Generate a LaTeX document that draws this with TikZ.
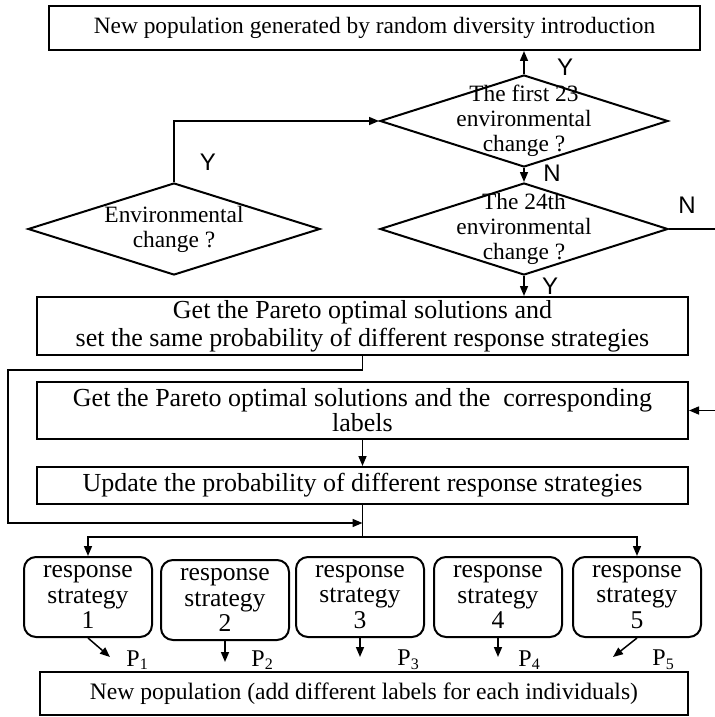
\documentclass[tikz,border=0pt]{standalone}
\usepackage{fontspec}
\setmainfont{Liberation Serif}
\newfontfamily\ynfont{Liberation Sans}
\usetikzlibrary{arrows.meta, shapes.geometric, positioning}

\begin{document}
\begin{tikzpicture}[x=0.5pt,y=-0.5pt,
    arr/.style={-{Triangle[length=5pt,width=4pt]},line width=0.75pt},
    ln/.style={line width=0.75pt},
    box/.style={draw,line width=1pt,minimum width=325.5pt,inner sep=0pt,align=center},
    dec/.style={draw,diamond,line width=1pt,inner sep=0pt,minimum width=144pt,minimum height=46pt},
    dtext/.style={align=center,inner sep=0pt,font=\fontsize{11.7}{12.5}\selectfont},
    strat/.style={draw,rounded corners=6pt,line width=1pt,minimum width=64pt,minimum height=40pt,
        inner sep=0pt,align=center,font=\fontsize{12.8}{12.8}\selectfont},
    yn/.style={font=\ynfont\fontsize{12}{12}\selectfont,inner sep=0pt},
    pl/.style={font=\fontsize{12}{12}\selectfont,inner sep=0pt,anchor=west}]
\useasboundingbox (0,0) rectangle (715,717);

%
\node[box,minimum height=22pt,font=\fontsize{11.7}{14}\selectfont] (intro) at (374.5,28)
    {New population generated by random diversity introduction};

%
\node[dec] (first) at (524,121) {};
\node[dtext] (firstt) at (first.center) {The first 23\\environmental\\change ?};
\node[dec] (last) at (524,229) {};
\node[dtext] (lastt) at (last.center) {The 24th\\environmental\\change ?};
\node[dec,minimum width=146pt] (env) at (174,229) {};
\node[dtext] (envt) at (env.center) {Environmental\\change ?};

%
\node[box,minimum height=29pt,font=\fontsize{13}{14}\selectfont] (init) at (362.5,326)
    {Get the Pareto optimal solutions and\\set the same probability of different response strategies};
\node[box,minimum height=28.5pt,font=\fontsize{13}{12.5}\selectfont] (label) at (362.5,410.5)
    {Get the Pareto optimal solutions and the \ corresponding\\labels};
\node[box,minimum height=18.5pt,font=\fontsize{13}{14}\selectfont] (update) at (362.5,485.5)
    {Update the probability of different response strategies};

%
\foreach \i/\x/\y in {1/88/597,2/225/600,3/360/597,4/498/597,5/637/597}
    \node[strat] (s\i) at (\x,\y) {response\\strategy\\\i};

\node[box,minimum width=324pt,minimum height=21.5pt,font=\fontsize{11.8}{14}\selectfont] (newpop) at (364,693.5)
    {New population (add different labels for each individuals)};

%
\draw[arr] (first.north) -- (first.north |- intro.south);
\node[yn] (y1) at (565,67) {Y};
\draw[arr] (first.south) -- (last.north);
\node[yn] (n1) at (552,173) {N};
\draw[arr] (env.north) |- (first.west);
\node[yn] (y0) at (208,162) {Y};
\coordinate (nout) at (715,229);
\draw[ln] (last.east) -- (nout);
\node[yn] (n2) at (687,205) {N};
\draw[arr] (last.south) -- (last.south |- init.north);
\node[yn] (y2) at (550,286) {Y};

%
\coordinate (lin) at (715,410.5);
\draw[arr] (lin) -- (label.east);
\draw[arr] (label.south) -- (update.north);
\coordinate (loop) at (8,523);
\coordinate (merge) at (362.5,523);
\coordinate (split) at (362.5,537);
\draw[arr] (init.south) -- ++(0,14) -| (loop) -- (merge);
\draw[ln] (update.south) -- (split);
\draw[arr] (split) -| (s1.north);
\draw[arr] (split) -| (s5.north);

%
\coordinate (e1) at (110,657);
\coordinate (e2) at (225,662);
\coordinate (e3) at (360,657);
\coordinate (e4) at (498,657);
\coordinate (e5) at (613,657);
\foreach \i in {1,...,5}
    \draw[arr] (s\i.south) -- (e\i);
\node[pl] (p1) at (126,660) {P\textsubscript{1}};
\node[pl] (p2) at (251,660) {P\textsubscript{2}};
\node[pl] (p3) at (397,660) {P\textsubscript{3}};
\node[pl] (p4) at (518,660) {P\textsubscript{4}};
\node[pl] (p5) at (652,660) {P\textsubscript{5}};
\end{tikzpicture}
\end{document}
